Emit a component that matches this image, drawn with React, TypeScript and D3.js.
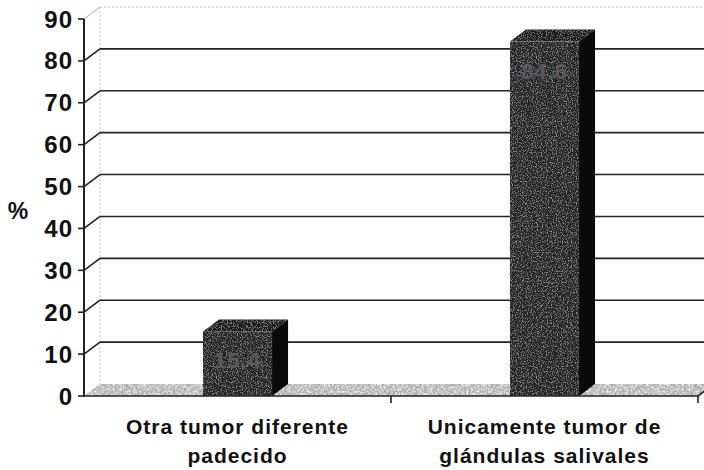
import React from "react";
import * as d3 from "d3";

const categories: string[][] = [
  ["Otra tumor diferente", "padecido"],
  ["Unicamente tumor de", "glándulas salivales"],
];
const values: number[] = [15.4, 84.6];
const valueLabels: string[] = ["15.4", "84.6"];
const yTicks: number[] = [0, 10, 20, 30, 40, 50, 60, 70, 80, 90];
const yTitle = "%";

const W = 704;
const H = 470;
const DX = 16;
const DY = -12;

export default function App() {
  const left = 84;
  const right = 698;
  const y = d3.scaleLinear().domain([0, 90]).range([396, 19]);
  const x = d3
    .scaleBand<number>()
    .domain(categories.map((_, i) => i))
    .range([left, right])
    .padding(0);
  const bw = x.bandwidth();
  const barW = bw * 0.225;
  const font = "Liberation Sans, Arial, sans-serif";
  const y0 = y(0);
  const yTop = y(90);

  return (
    <svg
      width={W}
      height={H}
      style={{ position: "absolute", left: 0, top: 0, background: "#fff" }}
      fontFamily={font}
    >
      <defs>
        <filter id="grainDark" x="0" y="0" width="1" height="1">
          <feTurbulence type="fractalNoise" baseFrequency="0.8" numOctaves="2" seed="4" result="n" />
          <feColorMatrix
            in="n"
            type="matrix"
            values="0 0 0 0 0.6  0 0 0 0 0.6  0 0 0 0 0.6  1.6 0 0 0 -0.8"
            result="w"
          />
          <feComposite in="w" in2="SourceGraphic" operator="in" result="wi" />
          <feMerge>
            <feMergeNode in="SourceGraphic" />
            <feMergeNode in="wi" />
          </feMerge>
        </filter>
        <filter id="grainFloor" x="0" y="0" width="1" height="1">
          <feTurbulence type="fractalNoise" baseFrequency="0.45" numOctaves="3" seed="9" result="n" />
          <feColorMatrix
            in="n"
            type="matrix"
            values="0 0 0 0 0.35  0 0 0 0 0.35  0 0 0 0 0.35  2.4 0 0 0 -1.0"
            result="d"
          />
          <feComposite in="d" in2="SourceGraphic" operator="in" result="di" />
          <feColorMatrix
            in="n"
            type="matrix"
            values="0 0 0 0 1  0 0 0 0 1  0 0 0 0 1  0 2 0 0 -0.8"
            result="w"
          />
          <feComposite in="w" in2="SourceGraphic" operator="in" result="wi" />
          <feMerge>
            <feMergeNode in="SourceGraphic" />
            <feMergeNode in="di" />
            <feMergeNode in="wi" />
          </feMerge>
        </filter>
      </defs>

      {/* back wall edges */}
      <line x1={left + DX} y1={yTop + DY} x2={left + DX} y2={y0 + DY} stroke="#c4c4c4" strokeDasharray="2,2" />
      <line x1={left + DX} y1={yTop + DY} x2={W} y2={yTop + DY} stroke="#c4c4c4" strokeDasharray="2,2" />
      <line x1={left} y1={yTop} x2={left + DX} y2={yTop + DY} stroke="#aaa" />

      {/* gridlines */}
      {yTicks
        .filter((t) => t > 0 && t < 90)
        .map((t) => (
          <g key={t}>
            <line x1={left} y1={y(t)} x2={left + DX} y2={y(t) + DY} stroke="#222" strokeWidth={1.6} />
            <line x1={left + DX} y1={y(t) + DY} x2={W} y2={y(t) + DY} stroke="#222" strokeWidth={1.6} />
          </g>
        ))}

      {/* floor */}
      <polygon
        points={`${left},${y0} ${left + DX},${y0 + DY} ${right + DX},${y0 + DY} ${right},${y0}`}
        fill="#b6b6b6"
        filter="url(#grainFloor)"
      />

      {/* bars */}
      {values.map((v, i) => {
        const bx = (x(i) as number) + (bw - barW) / 2;
        const by = y(v);
        return (
          <g key={i}>
            <polygon
              points={`${bx},${by} ${bx + DX},${by + DY} ${bx + barW + DX},${by + DY} ${bx + barW},${by}`}
              fill="#1a1a1a"
              filter="url(#grainDark)"
            />
            <polygon
              points={`${bx + barW},${by} ${bx + barW + DX},${by + DY} ${bx + barW + DX},${y0 + DY} ${bx + barW},${y0}`}
              fill="#0a0a0a"
            />
            <rect
              x={bx}
              y={by}
              width={barW}
              height={y0 - by}
              fill="#262626"
              filter="url(#grainDark)"
            />
            <text
              x={bx + barW / 2}
              y={by + 37}
              textAnchor="middle"
              fontSize={22}
              fontWeight="bold"
              fill="#5a5a5a"
              letterSpacing={1}
            >
              {valueLabels[i]}
            </text>
          </g>
        );
      })}

      {/* y axis */}
      <line x1={left} y1={yTop} x2={left} y2={y0 + 1} stroke="#222" strokeWidth={2} />
      {yTicks.map((t) => (
        <g key={t}>
          <line x1={left - 6} y1={y(t)} x2={left} y2={y(t)} stroke="#222" strokeWidth={1.6} />
          <text
            x={left - 11}
            y={y(t) + 8.5}
            textAnchor="end"
            fontSize={24}
            fontWeight="bold"
            fill="#111"
            letterSpacing={1}
          >
            {t}
          </text>
        </g>
      ))}
      <text x={18} y={219} textAnchor="middle" fontSize={23} fontWeight="bold" fill="#111">
        {yTitle}
      </text>

      {/* x axis */}
      <line x1={left} y1={y0} x2={right} y2={y0} stroke="#222" strokeWidth={1.6} />
      {categories.map((_, i) => (
        <line
          key={i}
          x1={(x(i) as number) + bw}
          y1={y0}
          x2={(x(i) as number) + bw}
          y2={y0 + 7}
          stroke="#222"
          strokeWidth={1.6}
        />
      ))}
      <line x1={right} y1={y0} x2={right + DX} y2={y0 + DY} stroke="#222" strokeWidth={1.6} />
      {categories.map((lines, i) =>
        lines.map((ln, j) => (
          <text
            key={`${i}-${j}`}
            x={(x(i) as number) + bw / 2}
            y={434 + j * 29}
            textAnchor="middle"
            fontSize={21}
            fontWeight="bold"
            fill="#111"
            letterSpacing={1}
          >
            {ln}
          </text>
        ))
      )}
    </svg>
  );
}
